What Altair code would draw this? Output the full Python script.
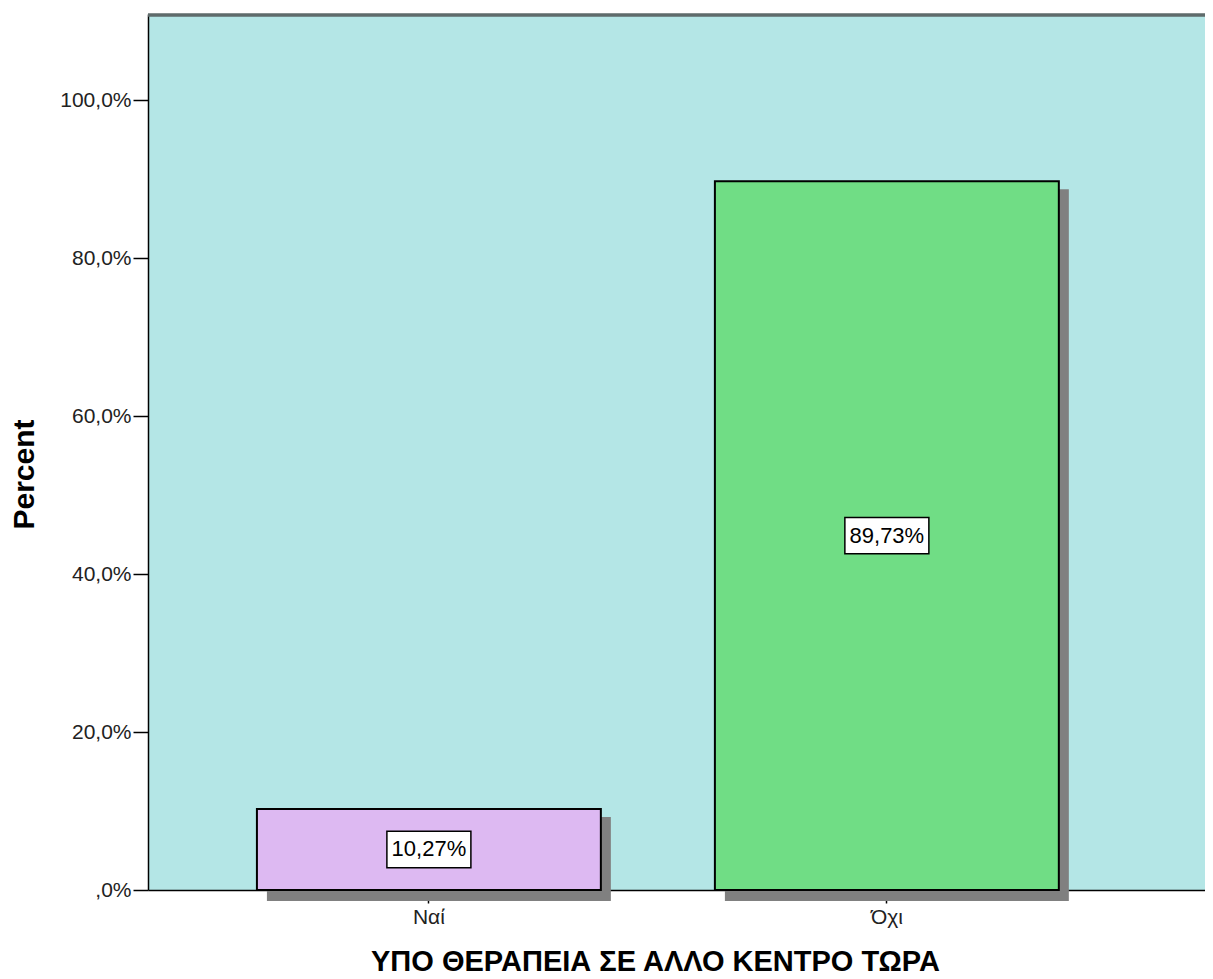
import altair as alt
import pandas as pd

# ---- data ----
categories = ["Ναί", "Όχι"]
percents = [10.27, 89.73]
bar_colors = ["#ddb9f2", "#70dd85"]
y_ticks = [0, 20, 40, 60, 80, 100]
x_title = "ΥΠΟ ΘΕΡΑΠΕΙΑ ΣΕ ΑΛΛΟ ΚΕΝΤΡΟ ΤΩΡΑ"
y_title = "Percent"

labels = [f"{v:.2f}".replace(".", ",") + "%" for v in percents]
df = pd.DataFrame({
    "cat": categories,
    "pct": percents,
    "label": labels,
    "mid": [v / 2 for v in percents],
})

W, H = 1057, 876
FONT = "Liberation Sans"

xscale = alt.Scale(domain=categories, paddingInner=0.249, paddingOuter=0.2785, align=0.427)
yscale = alt.Scale(domain=[0, 110.9], nice=False, zero=True)

x_axis = alt.Axis(
    title=x_title,
    labelAngle=0,
    grid=False,
    domainColor="black",
    domainWidth=1.5,
    tickColor="black",
    tickWidth=1.5,
    tickSize=13,
    labelPadding=3,
    labelFont=FONT,
    labelFontSize=21,
    labelColor="#222222",
    titleFont=FONT,
    titleFontSize=29,
    titleFontWeight="bold",
    titleColor="black",
    titleX=507,
    titleY=80,
    titleAlign="center",
    titleBaseline="alphabetic",
)

y_axis = alt.Axis(
    title=y_title,
    values=y_ticks,
    labelExpr="datum.value == 0 ? ',0%' : replace(format(datum.value, '.1f'), '.', ',') + '%'",
    grid=False,
    domainColor="black",
    domainWidth=1.5,
    tickColor="black",
    tickWidth=1.5,
    tickSize=15,
    labelPadding=2,
    labelFont=FONT,
    labelFontSize=21,
    labelColor="#222222",
    titleFont=FONT,
    titleFontSize=30,
    titleFontWeight="bold",
    titleColor="black",
    titleAngle=270,
    titleX=-124,
    titleY=460,
    titleAlign="center",
    titleBaseline="middle",
)

base = alt.Chart(df)

shadow = base.mark_bar(color="#808080", xOffset=10, yOffset=8, y2Offset=11).encode(
    x=alt.X("cat:N", scale=xscale, axis=x_axis),
    y=alt.Y("pct:Q", scale=yscale, axis=y_axis, stack=None),
    y2=alt.datum(0),
)

bars = base.mark_bar(stroke="black", strokeWidth=2).encode(
    x=alt.X("cat:N", scale=xscale, axis=x_axis),
    y=alt.Y("pct:Q", scale=yscale, axis=y_axis, stack=None),
    y2=alt.datum(0),
    color=alt.Color("cat:N", scale=alt.Scale(domain=categories, range=bar_colors), legend=None),
)

box_path = "M-1,-0.434L1,-0.434L1,0.434L-1,0.434Z"
boxes = base.mark_point(
    shape=box_path, size=84 * 84, filled=True, fill="white", stroke="black",
    strokeWidth=1.5, opacity=1,
).encode(
    x=alt.X("cat:N", scale=xscale, axis=x_axis),
    y=alt.Y("mid:Q", scale=yscale, axis=y_axis),
)

texts = base.mark_text(font=FONT, fontSize=22, color="black", baseline="middle", align="center").encode(
    x=alt.X("cat:N", scale=xscale, axis=x_axis),
    y=alt.Y("mid:Q", scale=yscale, axis=y_axis),
    text="label:N",
)

top_border = base.mark_rule(color="#5f6b6b", strokeWidth=3).encode(
    x=alt.value(0), x2=alt.value(W), y=alt.value(1)
)

chart = alt.layer(shadow, bars, boxes, texts, top_border).properties(
    width=W,
    height=H,
    autosize=alt.AutoSizeParams(type="none"),
    padding={"left": 140, "top": 6, "right": 0, "bottom": 85},
    background="white",
).configure_view(fill="#b4e6e6", stroke=None)

chart.save("out.html", embed_options={"renderer": "svg", "actions": False})
